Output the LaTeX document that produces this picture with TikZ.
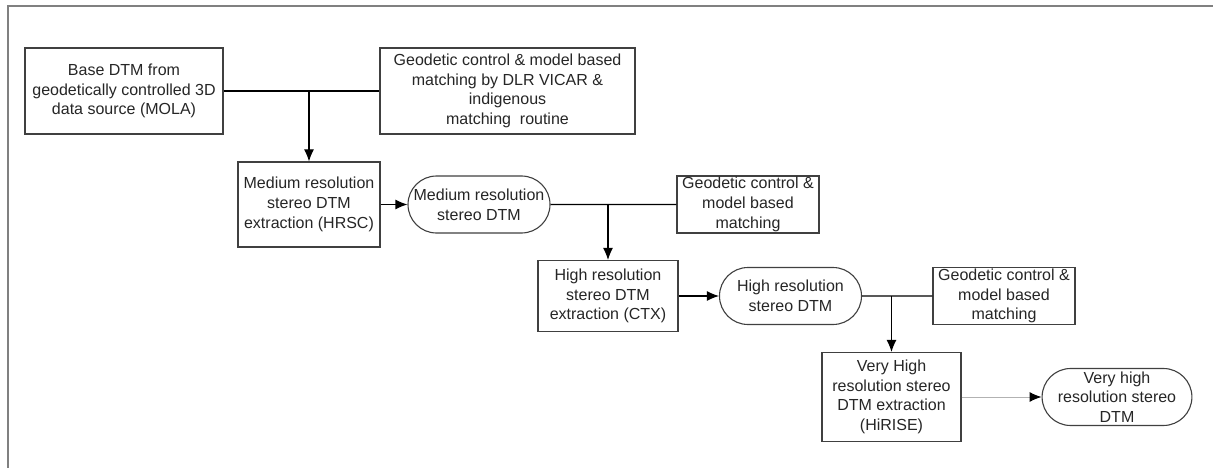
\documentclass[tikz,border=0pt]{standalone}
\usepackage{fontspec}
\setmainfont{Liberation Sans}
\usepackage{tikz}
\usetikzlibrary{shapes,shapes.misc,arrows.meta,positioning,calc}
\tikzstyle{procbox} = [rectangle, draw=black!75, line width=1.1pt, inner sep=0pt, align=center, text=black!85, execute at begin node=\fontsize{16}{19.7}\selectfont]
\tikzstyle{geobox} = [procbox, minimum width=142pt, minimum height=57pt]
\tikzstyle{dtm} = [rounded rectangle, draw=black!75, line width=1.1pt, inner sep=0pt, align=center, text=black!85, minimum width=142pt, minimum height=57pt, execute at begin node=\fontsize{16}{19.7}\selectfont]
\tikzstyle{line} = [draw, line width=1.1pt, -{Latex[length=12pt,width=10pt]}]
\tikzstyle{tieline} = [draw, line width=1.1pt]
\tikzstyle{faintline} = [draw=black!30, line width=1pt, -{Latex[black,length=12pt,width=10pt]}]
\tikzstyle{frame} = [draw=black!50, line width=2.5pt]

\begin{document}
\begin{tikzpicture}[x=1pt,y=-1pt,every node/.style={fill=white}]
	\useasboundingbox (0,0) rectangle (1213,468);
	\draw[frame] (8,468) -- (8,6) -- (1213,6);
	%Place nodes
	\node [procbox, minimum width=198pt, minimum height=86pt] (BaseDTM) at (124,91) {Base DTM from\\geodetically controlled 3D\\data source (MOLA)};
	\node [procbox, minimum width=255pt, minimum height=86pt, right of=BaseDTM, node distance=383.5pt] (GeoMatch1) {Geodetic control \& model based\\matching by DLR VICAR \&\\indigenous\\matching\ \ routine};
	\node [procbox, minimum width=142pt, minimum height=85pt, below of=BaseDTM, node distance=113.5pt, xshift=185pt] (MedExtract) {Medium resolution\\stereo DTM\\extraction (HRSC)};
	\node [dtm, right of=MedExtract, node distance=170pt] (MedDTM) {Medium resolution\\stereo DTM};
	\node [geobox, right of=MedDTM, node distance=269pt] (GeoMatch2) {Geodetic control \&\\model based\\matching};
	\node [procbox, minimum width=140pt, minimum height=71pt, below of=MedDTM, node distance=91.5pt, xshift=129pt] (HighExtract) {High resolution\\stereo DTM\\extraction (CTX)};
	\node [dtm, right of=HighExtract, node distance=182.5pt] (HighDTM) {High resolution\\stereo DTM};
	\node [geobox, right of=HighDTM, node distance=213.5pt] (GeoMatch3) {Geodetic control \&\\model based\\matching};
	\node [procbox, minimum width=139pt, minimum height=89pt, below of=HighDTM, node distance=101pt, xshift=101pt] (VHExtract) {Very High\\resolution stereo\\DTM extraction\\(HiRISE)};
	\node [dtm, right of=VHExtract, node distance=225.5pt] (VHDTM) {Very high\\resolution stereo\\DTM};

	%Junctions
	\coordinate (j1) at (MedExtract.north |- BaseDTM.east);
	\coordinate (j2) at (HighExtract.north |- MedDTM.east);
	\coordinate (j3) at (VHExtract.north |- HighDTM.east);

	\path [tieline] (BaseDTM) -- (GeoMatch1);
	\path [line] (j1) -- (MedExtract);
	\path [line] (MedExtract) -- (MedDTM);
	\path [tieline] (MedDTM) -- (GeoMatch2);
	\path [line] (j2) -- (HighExtract);
	\path [line] (HighExtract) -- (HighDTM);
	\path [tieline] (HighDTM) -- (GeoMatch3);
	\path [line] (j3) -- (VHExtract);
	\path [faintline] (VHExtract) -- (VHDTM);
\end{tikzpicture}
\end{document}
